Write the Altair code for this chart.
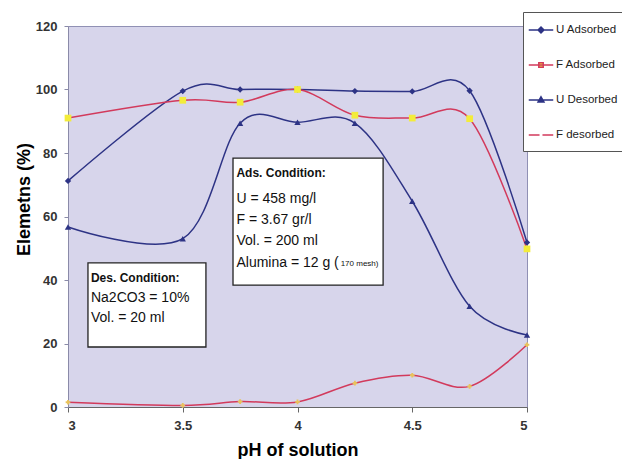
import altair as alt
import pandas as pd

# ---- data ----
ph = [3.0, 3.5, 3.75, 4.0, 4.25, 4.5, 4.75, 5.0]
u_adsorbed = [71.2, 99.5, 100.0, 100.0, 99.5, 99.4, 99.6, 51.8]
f_adsorbed = [91.0, 96.6, 96.0, 100.0, 91.9, 91.0, 90.8, 49.8]
u_desorbed = [56.7, 53.0, 89.4, 89.7, 89.4, 64.8, 31.7, 22.7]
f_desorbed = [1.5, 0.5, 1.7, 1.6, 7.5, 10.0, 6.5, 19.6]
series_names = ["U Adsorbed", "F Adsorbed", "U Desorbed", "F desorbed"]

x_ticks = [3, 3.5, 4, 4.5, 5]
y_ticks = [0, 20, 40, 60, 80, 100, 120]

ads_title = "Ads. Condition:"
ads_lines = ["U = 458 mg/l", "F = 3.67 gr/l", "Vol. = 200 ml", "Alumina = 12 g ("]
ads_small = "170 mesh)"
des_title = "Des. Condition:"
des_lines = ["Na2CO3 = 10%", "Vol. = 20 ml"]

# ---- styling ----
NAVY = "#2d3385"
RED = "#d23a5c"
YELLOW = "#f3ec3a"
PALE = "#e9c35c"
line_colors = [NAVY, RED, NAVY, RED]
legend_fills = [NAVY, YELLOW, NAVY, RED]
# every legend glyph carries the same vertical extent (the moveTo pair) so rows are even
legend_paths = [
    "M0,-0.6M0,0.6M-1,0H1M0,-0.24L0.24,0L0,0.24L-0.24,0Z",
    "M0,-0.6M0,0.6M-1,0H1M-0.18,-0.18H0.18V0.18H-0.18Z",
    "M0,-0.6M0,0.6M-1,0H1M0,-0.26L0.24,0.16H-0.24Z",
    "M0,-0.6M0,0.6M-1,0H-0.12M0.12,0H1",
]
FONT = "Liberation Sans, Arial, sans-serif"

rows = []
for name, vals in zip(series_names, [u_adsorbed, f_adsorbed, u_desorbed, f_desorbed]):
    for p, v in zip(ph, vals):
        rows.append({"ph": p, "value": v, "series": name})
df = pd.DataFrame(rows)

X_TITLE = "pH of solution"
Y_TITLE = "Elemetns (%)"

x_scale = alt.Scale(domain=[3, 5], nice=False, zero=False)
y_scale = alt.Scale(domain=[0, 120], nice=False)

x_axis = alt.Axis(values=x_ticks, format="~g", grid=False, tickSize=5,
                  labelPadding=7, labelFontSize=13, labelFont=FONT, labelFontWeight="bold",
                  labelColor="#333333", domainColor="#666666", tickColor="#666666",
                  titleFont=FONT, titleFontSize=18, titleFontWeight="bold", titleColor="#000000",
                  titleY=48, titleBaseline="alphabetic")
y_axis = alt.Axis(values=y_ticks, grid=False, tickSize=4, labelPadding=7,
                  labelFontSize=13, labelFont=FONT, labelFontWeight="bold",
                  labelColor="#333333", domainColor="#8a8aa8", tickColor="#8a8aa8",
                  titleFont=FONT, titleFontSize=18, titleFontWeight="bold", titleColor="#000000",
                  titleX=-44, titleY=173, titleAngle=-90, titleAlign="center", titleBaseline="middle")

X = alt.X("ph:Q", scale=x_scale, axis=x_axis, title=X_TITLE)
Y = alt.Y("value:Q", scale=y_scale, axis=y_axis, title=Y_TITLE)

leg = alt.Legend(title=None, orient="none", legendX=455, legendY=-14, direction="vertical",
                 padding=5, symbolOffset=0, labelOffset=2, rowPadding=11, symbolSize=600,
                 symbolStrokeWidth=1.5, labelFont=FONT, labelFontSize=11.5, labelColor="#222222",
                 strokeColor="#555555", fillColor="#ffffff")

base = alt.Chart(df)

lines = base.mark_line(interpolate="cardinal", strokeWidth=1.5).encode(
    x=X, y=Y,
    color=alt.Color("series:N", scale=alt.Scale(domain=series_names, range=line_colors), legend=leg),
    detail="series:N",
)


def pts(name, shape, fill, size):
    return base.transform_filter(alt.datum.series == name).mark_point(
        shape=shape, filled=True, fill=fill, size=size, opacity=1, strokeWidth=0
    ).encode(x=X, y=Y)


p1 = pts("U Adsorbed", "diamond", NAVY, 40)
p2 = pts("F Adsorbed", "square", YELLOW, 45)
p3 = pts("U Desorbed", "triangle-up", NAVY, 40)
p4 = pts("F desorbed", "cross", PALE, 22)

# legend carrier layer: its marks sit far outside the clipped plot area
legend_layer = base.transform_calculate(hidden="datum.value + 1000").mark_point(
    filled=True, opacity=1, strokeWidth=1.5, clip=True
).encode(
    x=X,
    y=alt.Y("hidden:Q", scale=y_scale, axis=y_axis, title=Y_TITLE),
    shape=alt.Shape("series:N", scale=alt.Scale(domain=series_names, range=legend_paths), legend=leg),
    fill=alt.Fill("series:N", scale=alt.Scale(domain=series_names, range=legend_fills), legend=leg),
    stroke=alt.Stroke("series:N", scale=alt.Scale(domain=series_names, range=line_colors), legend=leg),
)

# annotation boxes (data coordinates)
box_df = pd.DataFrame({"x1": [3.719, 3.087], "x2": [4.373, 3.601],
                       "y1": [78.4, 45.4], "y2": [38.4, 18.9]})
boxes = alt.Chart(box_df).mark_rect(fill="white", stroke="#222222", strokeWidth=1.3).encode(
    x=alt.X("x1:Q", scale=x_scale, axis=x_axis, title=X_TITLE), x2="x2:Q",
    y=alt.Y("y1:Q", scale=y_scale, axis=y_axis, title=Y_TITLE), y2="y2:Q",
)

text_df = pd.DataFrame({
    "tx": [3.734] * 5 + [3.100] * 3,
    "ty": [73.7, 65.5, 58.9, 52.3, 45.4, 40.7, 34.3, 28.0],
    "label": [ads_title] + ads_lines + [des_title] + des_lines,
    "kind": ["head", "body", "body", "body", "body", "head", "body", "body"],
})


def txt(kind, size, weight):
    return alt.Chart(text_df).transform_filter(alt.datum.kind == kind).mark_text(
        align="left", baseline="middle", font=FONT, fontSize=size, fontWeight=weight, color="#111111"
    ).encode(
        x=alt.X("tx:Q", scale=x_scale, axis=x_axis, title=X_TITLE),
        y=alt.Y("ty:Q", scale=y_scale, axis=y_axis, title=Y_TITLE),
        text="label:N",
    )


heads = txt("head", 12, "bold")
bodies = txt("body", 14, "normal")
small = alt.Chart(pd.DataFrame({"tx": [4.188], "ty": [45.1], "label": [ads_small]})).mark_text(
    align="left", baseline="middle", font=FONT, fontSize=8, color="#111111"
).encode(
    x=alt.X("tx:Q", scale=x_scale, axis=x_axis, title=X_TITLE),
    y=alt.Y("ty:Q", scale=y_scale, axis=y_axis, title=Y_TITLE),
    text="label:N",
)

chart = alt.layer(lines, p1, p2, p3, p4, boxes, heads, bodies, small, legend_layer).properties(
    width=459, height=381,
    autosize=alt.AutoSizeParams(type="none"),
    padding={"left": 60, "top": 18, "right": 95, "bottom": 52},
    background="#ffffff",
).configure_view(fill="#d7d5eb", stroke="#9090b4", strokeWidth=1)

chart.save("out.html", embed_options={"renderer": "svg", "actions": False})
